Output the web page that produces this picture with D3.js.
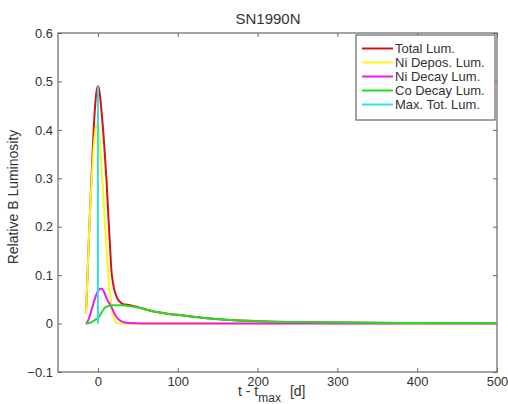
<!DOCTYPE html>
<html>
<head>
<meta charset="utf-8">
<script src="https://cdn.jsdelivr.net/npm/d3@7"></script>
<style>
  body { margin: 0; background: #fff; }
  svg { font-family: "Liberation Sans", Arial, sans-serif; }
</style>
</head>
<body>
<div id="chart"></div>
<script>
// days relative to maximum, shared by every curve
const tDays = [-15, -13, -11, -9, -7, -5, -3, -1, 0, 1, 3, 5, 7, 9, 11, 13, 15, 17, 19, 21, 24, 28, 32, 36, 40, 50, 60, 70, 85, 100, 130, 160, 200, 250, 300, 400, 500];

const totalLum = [0.02, 0.10, 0.19, 0.265, 0.34, 0.41, 0.46, 0.486, 0.49, 0.487, 0.465, 0.43, 0.39, 0.34, 0.29, 0.225, 0.165, 0.108, 0.083, 0.067, 0.053, 0.044, 0.040, 0.039, 0.038, 0.034, 0.029, 0.025, 0.021, 0.018, 0.012, 0.008, 0.005, 0.003, 0.002, 0.001, 0.0005];
const niDeposLum = [0.02, 0.10, 0.19, 0.26, 0.32, 0.37, 0.40, 0.41, 0.408, 0.40, 0.36, 0.31, 0.26, 0.20, 0.15, 0.10, 0.065, 0.035, 0.018, 0.006, 0.001, 0, 0, 0, 0, 0, 0, 0, 0, 0, 0, 0, 0, 0, 0, 0, 0];
const niDecayLum = [0, 0.004, 0.012, 0.022, 0.033, 0.045, 0.055, 0.064, 0.067, 0.069, 0.072, 0.072, 0.068, 0.060, 0.052, 0.045, 0.040, 0.034, 0.027, 0.020, 0.012, 0.006, 0.003, 0.0015, 0.001, 0.0005, 0, 0, 0, 0, 0, 0, 0, 0, 0, 0, 0];
const coDecayLum = [0, 0.0003, 0.001, 0.002, 0.004, 0.006, 0.008, 0.010, 0.011, 0.013, 0.018, 0.024, 0.029, 0.033, 0.035, 0.036, 0.037, 0.0375, 0.038, 0.038, 0.038, 0.038, 0.0375, 0.037, 0.036, 0.033, 0.029, 0.025, 0.021, 0.018, 0.012, 0.008, 0.005, 0.003, 0.002, 0.001, 0.0005];

// vertical marker at t_max
const maxT = [0, 0];
const maxLum = [0, 0.49];

const xTicks = [0, 100, 200, 300, 400, 500];
const yTicks = [-0.1, 0, 0.1, 0.2, 0.3, 0.4, 0.5, 0.6];

const seriesNames = ["Total Lum.", "Ni Depos. Lum.", "Ni Decay Lum.", "Co Decay Lum.", "Max. Tot. Lum."];
const seriesColors = ["#d41414", "#f8f81e", "#ea1aea", "#22dd22", "#2ee0e0"];

const W = 508, H = 404;
const m = { left: 58, right: 11, top: 33, bottom: 32 };

const svg = d3.select("#chart").append("svg")
  .attr("width", W)
  .attr("height", H);

const x = d3.scaleLinear().domain([-50, 500]).range([m.left, W - m.right]);
const y = d3.scaleLinear().domain([-0.1, 0.6]).range([H - m.bottom, m.top]);

svg.append("clipPath").attr("id", "clip")
  .append("rect")
  .attr("x", m.left).attr("y", m.top)
  .attr("width", x(500) - x(-50)).attr("height", y(-0.1) - y(0.6));

const fmt = d3.format(".1~f");
const axisColor = "#666";
const textColor = "#333";

// axes with inward ticks (matlab style)
svg.append("g")
  .attr("transform", `translate(0,${y(-0.1)})`)
  .call(d3.axisBottom(x).tickValues(xTicks).tickSize(-4).tickPadding(5).tickFormat(d3.format("d")));
svg.append("g")
  .attr("transform", `translate(0,${y(0.6)})`)
  .call(d3.axisTop(x).tickValues(xTicks).tickSize(-4).tickFormat(""));
svg.append("g")
  .attr("transform", `translate(${x(-50)},0)`)
  .call(d3.axisLeft(y).tickValues(yTicks).tickSize(-4).tickPadding(5).tickFormat(fmt));
svg.append("g")
  .attr("transform", `translate(${x(500)},0)`)
  .call(d3.axisRight(y).tickValues(yTicks).tickSize(-4).tickFormat(""));

svg.selectAll(".domain").remove();
svg.selectAll(".tick line").attr("stroke", axisColor);
svg.selectAll(".tick text").attr("fill", textColor).style("font-size", "13px")
  .style("font-family", '"Liberation Sans", Arial, sans-serif');

svg.append("rect")
  .attr("x", x(-50)).attr("y", y(0.6))
  .attr("width", x(500) - x(-50)).attr("height", y(-0.1) - y(0.6))
  .attr("fill", "none")
  .attr("stroke", axisColor)
  .attr("stroke-width", 1.2);

// curves
const line = d3.line()
  .x(d => x(d[0]))
  .y(d => y(d[1]))
  .curve(d3.curveMonotoneX);

const curves = [totalLum, niDeposLum, niDecayLum, coDecayLum];
const plot = svg.append("g").attr("clip-path", "url(#clip)");
curves.forEach((vals, i) => {
  plot.append("path")
    .datum(tDays.map((t, k) => [t, vals[k]]))
    .attr("d", line)
    .attr("fill", "none")
    .attr("stroke", seriesColors[i])
    .attr("stroke-width", 2)
    .attr("stroke-linejoin", "round");
});
plot.append("path")
  .datum(maxT.map((t, k) => [t, maxLum[k]]))
  .attr("d", d3.line().x(d => x(d[0])).y(d => y(d[1])))
  .attr("fill", "none")
  .attr("stroke", seriesColors[4])
  .attr("stroke-width", 2);

// title and labels
svg.append("text")
  .attr("x", 268).attr("y", 24)
  .attr("text-anchor", "middle")
  .attr("fill", textColor)
  .style("font-size", "15px")
  .text("SN1990N");

svg.append("text")
  .attr("transform", "translate(18,197) rotate(-90)")
  .attr("text-anchor", "middle")
  .attr("fill", textColor)
  .style("font-size", "14px")
  .text("Relative B Luminosity");

const xl = svg.append("text")
  .attr("x", 238).attr("y", 396)
  .attr("fill", textColor)
  .style("font-size", "14px");
xl.append("tspan").text("t - t");
xl.append("tspan").attr("dy", 6).style("font-size", "12px").text("max");
xl.append("tspan").attr("dy", -6).attr("dx", 9).text("[d]");

// legend
const lg = svg.append("g").attr("transform", "translate(356,35)");
lg.append("rect")
  .attr("width", 139).attr("height", 85)
  .attr("fill", "#fff")
  .attr("stroke", axisColor)
  .attr("stroke-width", 1.2);
seriesNames.forEach((name, i) => {
  const yy = 13.5 + i * 14;
  lg.append("line")
    .attr("x1", 6).attr("x2", 37)
    .attr("y1", yy).attr("y2", yy)
    .attr("stroke", seriesColors[i])
    .attr("stroke-width", 2);
  lg.append("text")
    .attr("x", 39).attr("y", yy + 4.5)
    .attr("fill", textColor)
    .style("font-size", "13px")
    .text(name);
});
</script>
</body>
</html>
